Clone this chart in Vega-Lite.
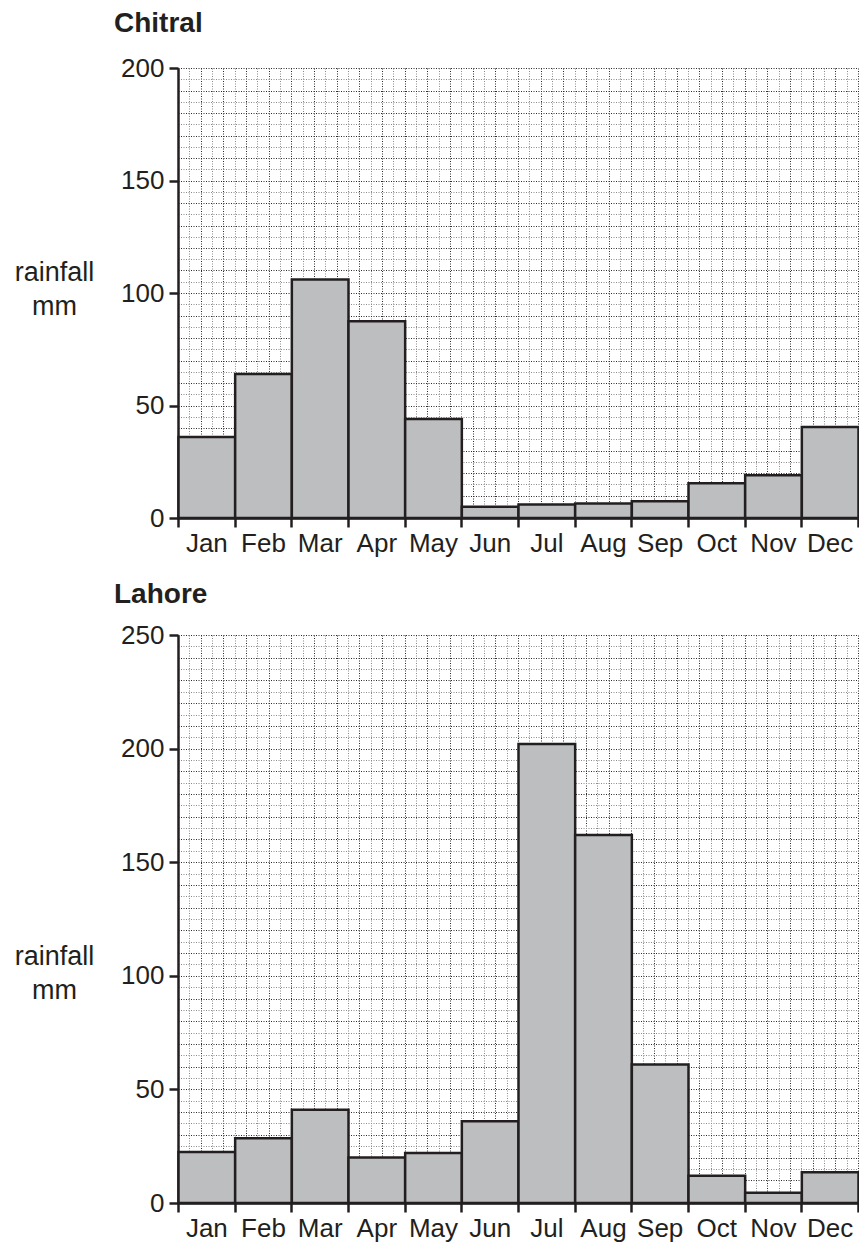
{
  "$schema": "https://vega.github.io/schema/vega-lite/v6.json",
  "background": "white",
  "padding": {"left": 14, "top": 10, "right": 2, "bottom": 2},
  "spacing": 25,
  "datasets": {
    "chitral": [
      {"month": "Jan", "idx": 0, "rain": 36},
      {"month": "Feb", "idx": 1, "rain": 64},
      {"month": "Mar", "idx": 2, "rain": 106},
      {"month": "Apr", "idx": 3, "rain": 87.5},
      {"month": "May", "idx": 4, "rain": 44},
      {"month": "Jun", "idx": 5, "rain": 5},
      {"month": "Jul", "idx": 6, "rain": 6},
      {"month": "Aug", "idx": 7, "rain": 6.5},
      {"month": "Sep", "idx": 8, "rain": 7.5},
      {"month": "Oct", "idx": 9, "rain": 15.5},
      {"month": "Nov", "idx": 10, "rain": 19},
      {"month": "Dec", "idx": 11, "rain": 40.5}
    ],
    "lahore": [
      {"month": "Jan", "idx": 0, "rain": 22.5},
      {"month": "Feb", "idx": 1, "rain": 28.5},
      {"month": "Mar", "idx": 2, "rain": 41},
      {"month": "Apr", "idx": 3, "rain": 20},
      {"month": "May", "idx": 4, "rain": 22},
      {"month": "Jun", "idx": 5, "rain": 36},
      {"month": "Jul", "idx": 6, "rain": 202},
      {"month": "Aug", "idx": 7, "rain": 162},
      {"month": "Sep", "idx": 8, "rain": 61},
      {"month": "Oct", "idx": 9, "rain": 12},
      {"month": "Nov", "idx": 10, "rain": 4.5},
      {"month": "Dec", "idx": 11, "rain": 13.5}
    ]
  },
  "config": {
    "view": {"stroke": null},
    "font": "Liberation Sans",
    "axis": {
      "domainColor": "#231f20",
      "domainWidth": 2.5,
      "tickColor": "#231f20",
      "tickWidth": 2.5,
      "tickSize": 9,
      "labelColor": "#231f20",
      "labelFont": "Liberation Sans",
      "titleFont": "Liberation Sans",
      "titleColor": "#231f20",
      "titleFontWeight": "normal",
      "grid": true,
      "gridDash": [1, 1.5],
      "gridWidth": 1,
      "labelOverlap": false,
      "labelBound": false,
      "labelFlush": false
    },
    "title": {"font": "Liberation Sans", "fontSize": 28, "fontWeight": "bold", "color": "#231f20", "anchor": "start", "frame": "group"}
  },
  "vconcat": [
    {
      "title": {"text": "Chitral", "dx": -64, "dy": -13},
      "width": 680,
      "height": 450,
      "data": {"name": "chitral"},
      "mark": {"type": "bar", "fill": "#bdbec0", "stroke": "#231f20", "strokeWidth": 2.5, "binSpacing": 0},
      "encoding": {
        "x": {
          "field": "idx", "type": "quantitative",
          "bin": {"step": 1, "extent": [0, 12]},
          "scale": {"domain": [0, 12], "nice": false, "zero": false},
          "axis": {
            "title": null,
            "values": [0,0.2,0.4,0.6,0.8,1,1.2,1.4,1.6,1.8,2,2.2,2.4,2.6,2.8,3,3.2,3.4,3.6,3.8,4,4.2,4.4,4.6,4.8,5,5.2,5.4,5.6,5.8,6,6.2,6.4,6.6,6.8,7,7.2,7.4,7.6,7.8,8,8.2,8.4,8.6,8.8,9,9.2,9.4,9.6,9.8,10,10.2,10.4,10.6,10.8,11,11.2,11.4,11.6,11.8,12],
            "labelExpr": "datum.value === floor(datum.value) && datum.value < 12 ? ['Jan','Feb','Mar','Apr','May','Jun','Jul','Aug','Sep','Oct','Nov','Dec'][datum.value] : ''",
            "labelOffset": 28.33,
            "labelFontSize": 26,
            "labelPadding": 3,
            "labelAngle": 0,
            "tickOpacity": {"condition": {"test": "datum.value === floor(datum.value)", "value": 1}, "value": 0},
            "gridColor": {"condition": {"test": "round(datum.value*5) % 2 === 0", "value": "#2a2a2a"}, "value": "#8a8a8a"}
          }
        },
        "y": {
          "aggregate": "sum", "field": "rain", "type": "quantitative",
          "scale": {"domain": [0, 200], "nice": false},
          "axis": {
            "title": ["rainfall", "mm"],
            "titleAngle": 0,
            "titleAlign": "center",
            "titleBaseline": "alphabetic",
            "titleFontSize": 27,
            "titleLineHeight": 34,
            "titleX": -124,
            "titleY": 212,
            "values": [0,5,10,15,20,25,30,35,40,45,50,55,60,65,70,75,80,85,90,95,100,105,110,115,120,125,130,135,140,145,150,155,160,165,170,175,180,185,190,195,200],
            "labelExpr": "datum.value % 50 === 0 ? datum.label : ''",
            "labelFontSize": 26,
            "labelPadding": 5,
            "tickOpacity": {"condition": {"test": "datum.value % 50 === 0", "value": 1}, "value": 0},
            "gridColor": {"condition": {"test": "datum.value % 10 === 0", "value": "#2a2a2a"}, "value": "#8a8a8a"}
          }
        }
      }
    },
    {
      "title": {"text": "Lahore", "dx": -64, "dy": -9},
      "width": 680,
      "height": 568,
      "data": {"name": "lahore"},
      "mark": {"type": "bar", "fill": "#bdbec0", "stroke": "#231f20", "strokeWidth": 2.5, "binSpacing": 0},
      "encoding": {
        "x": {
          "field": "idx", "type": "quantitative",
          "bin": {"step": 1, "extent": [0, 12]},
          "scale": {"domain": [0, 12], "nice": false, "zero": false},
          "axis": {
            "title": null,
            "values": [0,0.2,0.4,0.6,0.8,1,1.2,1.4,1.6,1.8,2,2.2,2.4,2.6,2.8,3,3.2,3.4,3.6,3.8,4,4.2,4.4,4.6,4.8,5,5.2,5.4,5.6,5.8,6,6.2,6.4,6.6,6.8,7,7.2,7.4,7.6,7.8,8,8.2,8.4,8.6,8.8,9,9.2,9.4,9.6,9.8,10,10.2,10.4,10.6,10.8,11,11.2,11.4,11.6,11.8,12],
            "labelExpr": "datum.value === floor(datum.value) && datum.value < 12 ? ['Jan','Feb','Mar','Apr','May','Jun','Jul','Aug','Sep','Oct','Nov','Dec'][datum.value] : ''",
            "labelOffset": 28.33,
            "labelFontSize": 26,
            "labelPadding": 3,
            "labelAngle": 0,
            "tickOpacity": {"condition": {"test": "datum.value === floor(datum.value)", "value": 1}, "value": 0},
            "gridColor": {"condition": {"test": "round(datum.value*5) % 2 === 0", "value": "#2a2a2a"}, "value": "#8a8a8a"}
          }
        },
        "y": {
          "aggregate": "sum", "field": "rain", "type": "quantitative",
          "scale": {"domain": [0, 250], "nice": false},
          "axis": {
            "title": ["rainfall", "mm"],
            "titleAngle": 0,
            "titleAlign": "center",
            "titleBaseline": "alphabetic",
            "titleFontSize": 27,
            "titleLineHeight": 34,
            "titleX": -124,
            "titleY": 329,
            "values": [0,5,10,15,20,25,30,35,40,45,50,55,60,65,70,75,80,85,90,95,100,105,110,115,120,125,130,135,140,145,150,155,160,165,170,175,180,185,190,195,200,205,210,215,220,225,230,235,240,245,250],
            "labelExpr": "datum.value % 50 === 0 ? datum.label : ''",
            "labelFontSize": 26,
            "labelPadding": 5,
            "tickOpacity": {"condition": {"test": "datum.value % 50 === 0", "value": 1}, "value": 0},
            "gridColor": {"condition": {"test": "datum.value % 10 === 0", "value": "#2a2a2a"}, "value": "#8a8a8a"}
          }
        }
      }
    }
  ]
}
